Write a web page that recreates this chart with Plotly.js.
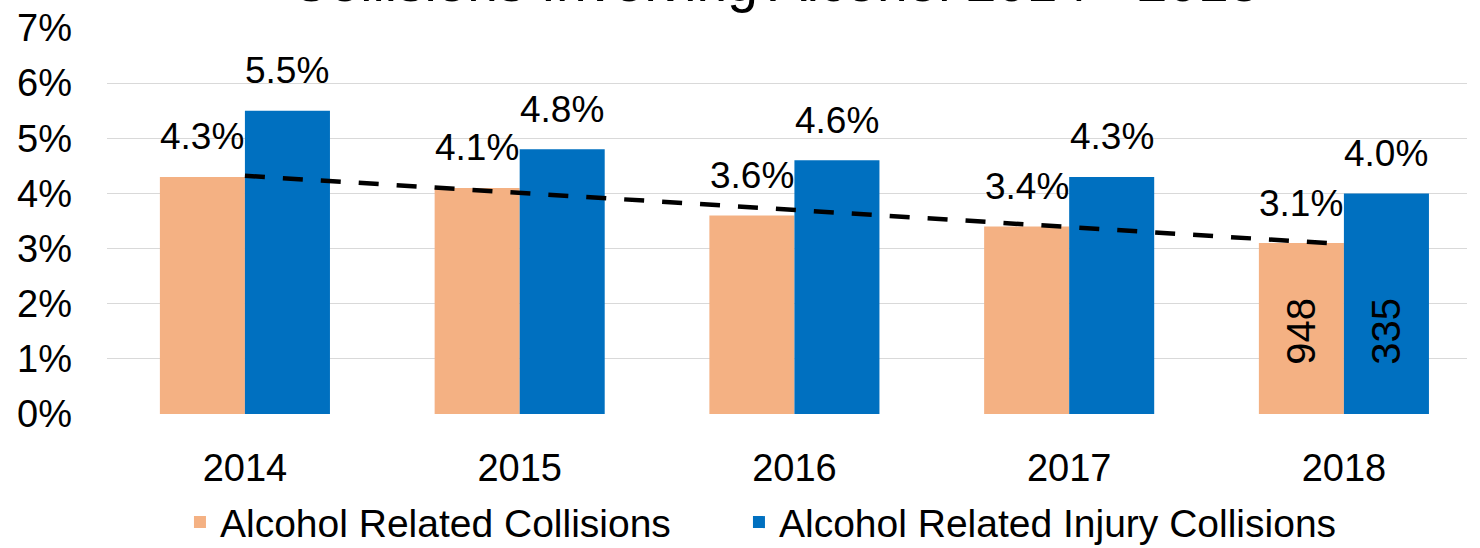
<!DOCTYPE html>
<html>
<head>
<meta charset="utf-8">
<script src="https://cdn.plot.ly/plotly-3.0.1.min.js"></script>
<style>html,body{margin:0;padding:0;background:#fff;}#chart{width:1480px;height:548px;}</style>
</head>
<body>
<div id="chart"></div>
<script>
const titleText = "Collisions Involving Alcohol 2014 - 2018";
const years = ["2014", "2015", "2016", "2017", "2018"];
const collisionsPct = [0.043, 0.041, 0.036, 0.034, 0.031];
const injuryPct = [0.055, 0.048, 0.046, 0.043, 0.040];
const seriesNames = ["Alcohol Related Collisions", "Alcohol Related Injury Collisions"];
const countYear = "2018";
const countCollisions = 948;
const countInjury = 335;
const yTicks = [0, 0.01, 0.02, 0.03, 0.04, 0.05, 0.06, 0.07];

const ORANGE = "#F4B183";
const BLUE = "#0070C0";
const FONT = "Liberation Sans, Arial, sans-serif";
const halfBarPx = 42.5;

// linear trendline of the collisions series (least squares on category index)
const n = collisionsPct.length;
const idx = collisionsPct.map((_, i) => i);
const mx = idx.reduce((a, b) => a + b, 0) / n;
const my = collisionsPct.reduce((a, b) => a + b, 0) / n;
let sxy = 0, sxx = 0;
idx.forEach(i => { sxy += (i - mx) * (collisionsPct[i] - my); sxx += (i - mx) * (i - mx); });
const slope = sxy / sxx;
const trend = idx.map(i => my + slope * (i - mx));

const traces = [
  { type: "bar", x: years, y: collisionsPct, name: seriesNames[0], legend: "legend",
    marker: { color: ORANGE }, hoverinfo: "skip" },
  { type: "bar", x: years, y: injuryPct, name: seriesNames[1], legend: "legend2",
    marker: { color: BLUE }, hoverinfo: "skip" },
  { type: "scatter", mode: "lines", x: years, y: trend, showlegend: false,
    line: { color: "#000000", width: 4.5, dash: "20px,18px" }, hoverinfo: "skip" }
];

const pct = v => (v * 100).toFixed(1) + "%";
const annotations = [];
years.forEach((yr, i) => {
  annotations.push({ x: i, y: collisionsPct[i], xref: "x", yref: "y", text: pct(collisionsPct[i]),
    showarrow: false, xshift: -halfBarPx, yshift: 40, yanchor: "middle",
    font: { family: FONT, size: 37, color: "#000" } });
  annotations.push({ x: i, y: injuryPct[i], xref: "x", yref: "y", text: pct(injuryPct[i]),
    showarrow: false, xshift: halfBarPx, yshift: 40, yanchor: "middle",
    font: { family: FONT, size: 37, color: "#000" } });
});
const ci = years.indexOf(countYear);
annotations.push({ x: ci, y: 0.015, xref: "x", yref: "y", text: String(countCollisions),
  showarrow: false, xshift: -halfBarPx, textangle: -90,
  font: { family: FONT, size: 40, color: "#000" } });
annotations.push({ x: ci, y: 0.015, xref: "x", yref: "y", text: String(countInjury),
  showarrow: false, xshift: halfBarPx, textangle: -90,
  font: { family: FONT, size: 40, color: "#000" } });
annotations.push({ x: 0.491, y: 1, xref: "paper", yref: "paper", text: titleText,
  showarrow: false, yanchor: "bottom", yshift: 13,
  font: { family: FONT, size: 55, color: "#000" } });

const legendBase = { orientation: "h", xref: "container", yref: "container", xanchor: "left",
  y: 0.047, yanchor: "middle", font: { family: FONT, size: 39, color: "#000" },
  itemwidth: 30, bgcolor: "rgba(0,0,0,0)" };

const layout = {
  width: 1480, height: 548,
  margin: { l: 107, r: 13, t: 28, b: 134, pad: 0 },
  paper_bgcolor: "#fff", plot_bgcolor: "#fff",
  font: { family: FONT, color: "#000" },
  barmode: "group", bargap: 0.381, bargroupgap: 0,
  xaxis: { type: "category", range: [-0.502, 4.448], showgrid: false, zeroline: false,
    showline: false, ticks: "", tickfont: { family: FONT, size: 38, color: "#000" },
    ticklabelstandoff: 28, fixedrange: true },
  yaxis: { range: [0, 0.07], tickvals: yTicks, tickformat: ".0%", showgrid: true,
    gridcolor: "#D9D9D9", gridwidth: 1, zeroline: false, showline: false, ticks: "",
    tickfont: { family: FONT, size: 38, color: "#000" }, ticklabelstandoff: 34, fixedrange: true },
  showlegend: true,
  legend: Object.assign({}, legendBase, { x: 0.1216 }),
  legend2: Object.assign({}, legendBase, { x: 0.4993 }),
  annotations: annotations
};

Plotly.newPlot("chart", traces, layout, { displayModeBar: false, staticPlot: true });
</script>
</body>
</html>
